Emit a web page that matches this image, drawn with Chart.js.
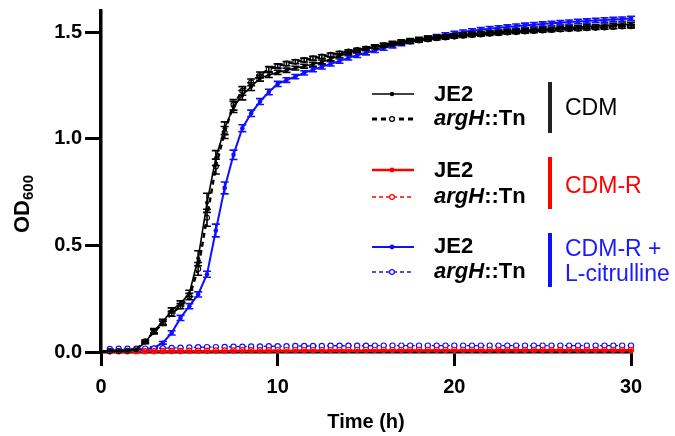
<!DOCTYPE html>
<html><head><meta charset="utf-8">
<script src="https://cdn.jsdelivr.net/npm/chart.js@4.4.0/dist/chart.umd.min.js"></script>
<style>
html,body{margin:0;padding:0;background:#fff;}
#wrap{position:relative;width:675px;height:436px;font-family:"Liberation Sans",Arial,sans-serif;overflow:hidden;}
#c{position:absolute;left:0;top:0;}
.t{position:absolute;white-space:nowrap;line-height:24px;height:24px;}
.b{font-weight:bold;font-size:22px;color:#000;}
.n{font-size:23px;}
.bar{position:absolute;width:4px;}
svg{position:absolute;overflow:visible;}
#ytitle{position:absolute;left:22px;top:204px;transform:translate(-50%,-50%) rotate(-90deg);font-weight:bold;font-size:22px;white-space:nowrap;}
#ytitle sub{font-size:15px;vertical-align:-4px;line-height:0;}
</style></head>
<body>
<div id="wrap">
<canvas id="c" width="675" height="436"></canvas>
<div id="ytitle">OD<sub>600</sub></div>

<svg style="left:372px;top:84px" width="42" height="20"><line x1="0" y1="10" x2="42" y2="10" stroke="#000" stroke-width="1.4"/><circle cx="20" cy="10" r="2.2" fill="#000"/></svg>
<svg style="left:372px;top:108.5px" width="42" height="20"><line x1="0" y1="10" x2="42" y2="10" stroke="#000" stroke-width="3" stroke-dasharray="5,4"/><circle cx="20" cy="10" r="2.4" fill="#fff" stroke="#000" stroke-width="1.2"/></svg>
<div class="t b" style="left:434px;top:82px">JE2</div>
<div class="t b" style="left:434px;top:105.5px"><i>argH</i>::Tn</div>
<div class="bar" style="left:548px;top:82px;height:51px;background:#222;"></div>
<div class="t n" style="left:565px;top:94.5px;color:#000">CDM</div>

<svg style="left:372px;top:160px" width="42" height="20"><line x1="0" y1="10" x2="42" y2="10" stroke="#ff0000" stroke-width="2.5"/><circle cx="20" cy="10" r="2.4" fill="#ff0000"/></svg>
<svg style="left:372px;top:187px" width="42" height="20"><line x1="0" y1="10" x2="42" y2="10" stroke="#ff0000" stroke-width="1.3" stroke-dasharray="4,3"/><circle cx="20" cy="10" r="2.4" fill="#fff" stroke="#ff0000" stroke-width="1.2"/></svg>
<div class="t b" style="left:434px;top:157.5px">JE2</div>
<div class="t b" style="left:434px;top:184px"><i>argH</i>::Tn</div>
<div class="bar" style="left:548px;top:157px;height:52px;background:#ff0000;"></div>
<div class="t n" style="left:565px;top:173px;color:#ff0000">CDM-R</div>

<svg style="left:372px;top:236.7px" width="42" height="20"><line x1="0" y1="10" x2="42" y2="10" stroke="#1010ff" stroke-width="2"/><circle cx="20" cy="10" r="2.4" fill="#1010ff"/></svg>
<svg style="left:372px;top:261.7px" width="42" height="20"><line x1="0" y1="10" x2="42" y2="10" stroke="#1010ff" stroke-width="1.5" stroke-dasharray="4,3"/><circle cx="20" cy="10" r="2.4" fill="#fff" stroke="#1010ff" stroke-width="1.2"/></svg>
<div class="t b" style="left:434px;top:234px">JE2</div>
<div class="t b" style="left:434px;top:259px"><i>argH</i>::Tn</div>
<div class="bar" style="left:548px;top:233px;height:54px;background:#1010ff;"></div>
<div class="t n" style="left:565px;top:235.5px;color:#1a1aff">CDM-R +</div>
<div class="t n" style="left:565px;top:260.5px;color:#1a1aff">L-citrulline</div>
</div>

<script>
// ---- data ----
const times = [0.5,1,1.5,2,2.5,3,3.5,4,4.5,5,5.5,6,6.5,7,7.5,8,8.5,9,9.5,10,10.5,11,11.5,12,12.5,13,13.5,14,14.5,15,15.5,16,16.5,17,17.5,18,18.5,19,19.5,20,20.5,21,21.5,22,22.5,23,23.5,24,24.5,25,25.5,26,26.5,27,27.5,28,28.5,29,29.5,30];

const je2CDM = [0.005,0.005,0.006,0.012,0.045,0.100,0.142,0.195,0.228,0.275,0.440,0.700,0.910,1.050,1.150,1.205,1.245,1.285,1.300,1.312,1.322,1.332,1.341,1.350,1.361,1.375,1.390,1.403,1.414,1.424,1.433,1.442,1.450,1.457,1.463,1.469,1.474,1.478,1.482,1.486,1.490,1.493,1.496,1.499,1.502,1.505,1.507,1.510,1.512,1.515,1.517,1.520,1.522,1.525,1.527,1.529,1.531,1.534,1.536,1.538];
const sdJe2CDM = [0.002,0.002,0.002,0.003,0.006,0.010,0.012,0.012,0.012,0.015,0.035,0.045,0.035,0.030,0.026,0.022,0.018,0.014,0.012,0.010,0.010,0.009,0.009,0.009,0.009,0.009,0.009,0.008,0.008,0.008,0.008,0.008,0.008,0.008,0.008,0.008,0.008,0.008,0.008,0.008,0.008,0.008,0.008,0.008,0.008,0.008,0.008,0.008,0.008,0.008,0.008,0.008,0.008,0.008,0.008,0.008,0.008,0.008,0.008,0.008];

const argCDM = [0.004,0.005,0.006,0.013,0.050,0.095,0.135,0.180,0.215,0.260,0.390,0.630,0.870,1.030,1.160,1.225,1.265,1.300,1.327,1.342,1.353,1.362,1.370,1.378,1.386,1.394,1.402,1.410,1.417,1.424,1.431,1.438,1.445,1.451,1.457,1.462,1.467,1.472,1.476,1.480,1.484,1.487,1.490,1.493,1.496,1.499,1.501,1.504,1.506,1.509,1.511,1.513,1.515,1.517,1.519,1.521,1.523,1.525,1.527,1.529];
const sdArgCDM = [0.002,0.002,0.002,0.003,0.006,0.010,0.010,0.012,0.012,0.015,0.030,0.040,0.035,0.028,0.025,0.020,0.016,0.014,0.012,0.010,0.010,0.009,0.009,0.009,0.009,0.009,0.008,0.008,0.008,0.008,0.008,0.008,0.008,0.008,0.008,0.008,0.008,0.008,0.008,0.008,0.008,0.008,0.008,0.008,0.008,0.008,0.008,0.008,0.008,0.008,0.008,0.008,0.008,0.008,0.008,0.008,0.008,0.008,0.008,0.008];

const je2R = [0.002,0.002,0.002,0.002,0.003,0.003,0.003,0.003,0.003,0.004,0.004,0.004,0.004,0.004,0.005,0.005,0.005,0.005,0.005,0.005,0.005,0.006,0.006,0.006,0.006,0.006,0.006,0.006,0.006,0.006,0.006,0.007,0.007,0.007,0.007,0.007,0.007,0.007,0.007,0.007,0.007,0.007,0.007,0.007,0.008,0.008,0.008,0.008,0.008,0.008,0.008,0.008,0.008,0.008,0.008,0.008,0.008,0.008,0.008,0.008];
const argR = [0.003,0.003,0.003,0.004,0.004,0.004,0.005,0.005,0.005,0.006,0.006,0.006,0.007,0.007,0.007,0.008,0.008,0.008,0.008,0.009,0.009,0.009,0.009,0.009,0.009,0.009,0.010,0.010,0.010,0.010,0.010,0.010,0.010,0.010,0.010,0.010,0.010,0.010,0.010,0.010,0.010,0.010,0.010,0.010,0.010,0.010,0.010,0.010,0.010,0.010,0.010,0.010,0.010,0.010,0.010,0.010,0.010,0.010,0.010,0.010];

const je2Cit = [0.008,0.008,0.009,0.010,0.012,0.020,0.043,0.090,0.160,0.215,0.270,0.365,0.570,0.770,0.925,1.050,1.120,1.175,1.220,1.258,1.276,1.292,1.310,1.325,1.338,1.352,1.365,1.380,1.392,1.404,1.415,1.426,1.437,1.447,1.456,1.464,1.472,1.480,1.488,1.495,1.501,1.507,1.512,1.517,1.521,1.525,1.529,1.533,1.536,1.539,1.542,1.545,1.548,1.551,1.553,1.556,1.558,1.560,1.562,1.565];
const sdJe2Cit = [0.002,0.002,0.002,0.002,0.003,0.004,0.006,0.010,0.012,0.012,0.012,0.014,0.030,0.028,0.022,0.016,0.015,0.014,0.013,0.012,0.011,0.010,0.010,0.010,0.010,0.010,0.010,0.010,0.010,0.010,0.010,0.010,0.010,0.010,0.010,0.010,0.010,0.010,0.010,0.010,0.010,0.010,0.010,0.010,0.010,0.010,0.010,0.010,0.010,0.010,0.010,0.010,0.010,0.010,0.010,0.010,0.010,0.010,0.010,0.010];

const argCit = [0.014,0.015,0.015,0.016,0.016,0.017,0.018,0.019,0.020,0.021,0.022,0.023,0.023,0.024,0.025,0.025,0.026,0.026,0.027,0.027,0.027,0.028,0.028,0.028,0.028,0.029,0.029,0.029,0.029,0.029,0.030,0.030,0.030,0.030,0.030,0.030,0.030,0.030,0.030,0.030,0.030,0.030,0.030,0.030,0.030,0.030,0.030,0.030,0.030,0.030,0.030,0.030,0.030,0.030,0.030,0.030,0.030,0.030,0.030,0.030];

const xTicks = [0, 10, 20, 30];
const yTicks = [0, 0.5, 1.0, 1.5];

// ---- build ----
const pts = arr => arr.map((v, i) => ({x: times[i], y: v}));
const BLACK = '#000000', RED = '#ff0000', BLUE = '#1010ff';

const errorBars = {
  id: 'errorBars',
  afterDatasetDraw(chart, args) {
    const ds = chart.data.datasets[args.index];
    if (!ds.errors) return;
    const xs = chart.scales.x, ys = chart.scales.y, c = chart.ctx;
    c.save();
    c.strokeStyle = ds.borderColor; c.lineWidth = 1.6;
    ds.data.forEach((p, i) => {
      const e = ds.errors[i];
      const px = xs.getPixelForValue(p.x);
      const y1 = ys.getPixelForValue(p.y - e), y2 = ys.getPixelForValue(p.y + e);
      if (Math.abs(y1 - y2) < 1.5) return;
      c.beginPath();
      c.moveTo(px, y1); c.lineTo(px, y2);
      c.moveTo(px - 4, y1); c.lineTo(px + 4, y1);
      c.moveTo(px - 4, y2); c.lineTo(px + 4, y2);
      c.stroke();
    });
    c.restore();
  }
};

const tickFont = {family: '"Liberation Sans", Arial, sans-serif', size: 20, weight: 'bold'};

new Chart(document.getElementById('c'), {
  type: 'line',
  data: {
    datasets: [
      {data: pts(je2CDM), errors: sdJe2CDM, borderColor: BLACK, backgroundColor: BLACK, borderWidth: 1.6,
       pointRadius: 2, pointBackgroundColor: BLACK, pointBorderWidth: 0, clip: false},
      {data: pts(argCDM), errors: sdArgCDM, borderColor: BLACK, backgroundColor: BLACK, borderWidth: 2.4, borderDash: [5, 4],
       pointRadius: 2.5, pointBackgroundColor: '#fff', pointBorderColor: BLACK, pointBorderWidth: 1.1, clip: false},
      {data: pts(je2R), borderColor: RED, backgroundColor: RED, borderWidth: 2.5,
       pointRadius: 2, pointBackgroundColor: RED, pointBorderWidth: 0, clip: false},
      {data: pts(argR), borderColor: RED, backgroundColor: RED, borderWidth: 1.3, borderDash: [4, 3],
       pointRadius: 2.6, pointBackgroundColor: '#fff', pointBorderColor: RED, pointBorderWidth: 1.2, clip: false},
      {data: pts(argCit), borderColor: BLUE, backgroundColor: BLUE, borderWidth: 1.4, borderDash: [4, 3],
       pointRadius: 2.6, pointBackgroundColor: '#fff', pointBorderColor: BLUE, pointBorderWidth: 1.2, clip: false},
      {data: pts(je2Cit), errors: sdJe2Cit, borderColor: BLUE, backgroundColor: BLUE, borderWidth: 2,
       pointRadius: 2.3, pointBackgroundColor: BLUE, pointBorderWidth: 0, clip: false}
    ]
  },
  options: {
    responsive: false, animation: false, devicePixelRatio: 1,
    layout: {padding: {left: 0, right: 44, top: 11, bottom: 0}},
    plugins: {legend: {display: false}, tooltip: {enabled: false}},
    elements: {line: {tension: 0}},
    scales: {
      x: {
        type: 'linear', min: 0, max: 30,
        afterBuildTicks: s => { s.ticks = xTicks.map(v => ({value: v})); },
        ticks: {color: '#000', font: tickFont, padding: 9, maxRotation: 0},
        grid: {display: true, drawOnChartArea: false, drawTicks: true, tickLength: 14, lineWidth: 3, tickWidth: 3, color: '#000'},
        border: {display: true, width: 3.5, color: '#000'},
        title: {display: true, text: 'Time (h)', color: '#000', font: {family: '"Liberation Sans", Arial, sans-serif', size: 20, weight: 'bold'}, padding: {top: 0, bottom: 2}},
        afterFit: s => { s.height = 84; s.paddingLeft = 0; s.paddingRight = 0; }
      },
      y: {
        type: 'linear', min: 0, max: 1.6,
        afterBuildTicks: s => { s.ticks = yTicks.map(v => ({value: v})); },
        ticks: {color: '#000', font: tickFont, padding: 3, callback: v => Number(v).toFixed(1)},
        grid: {display: true, drawOnChartArea: false, drawTicks: true, tickLength: 16, lineWidth: 3, tickWidth: 3, color: '#000'},
        border: {display: true, width: 3.5, color: '#000'},
        afterFit: s => { s.width = 101; s.paddingTop = 0; s.paddingBottom = 0; }
      }
    }
  },
  plugins: [errorBars]
});
</script>
</body></html>
